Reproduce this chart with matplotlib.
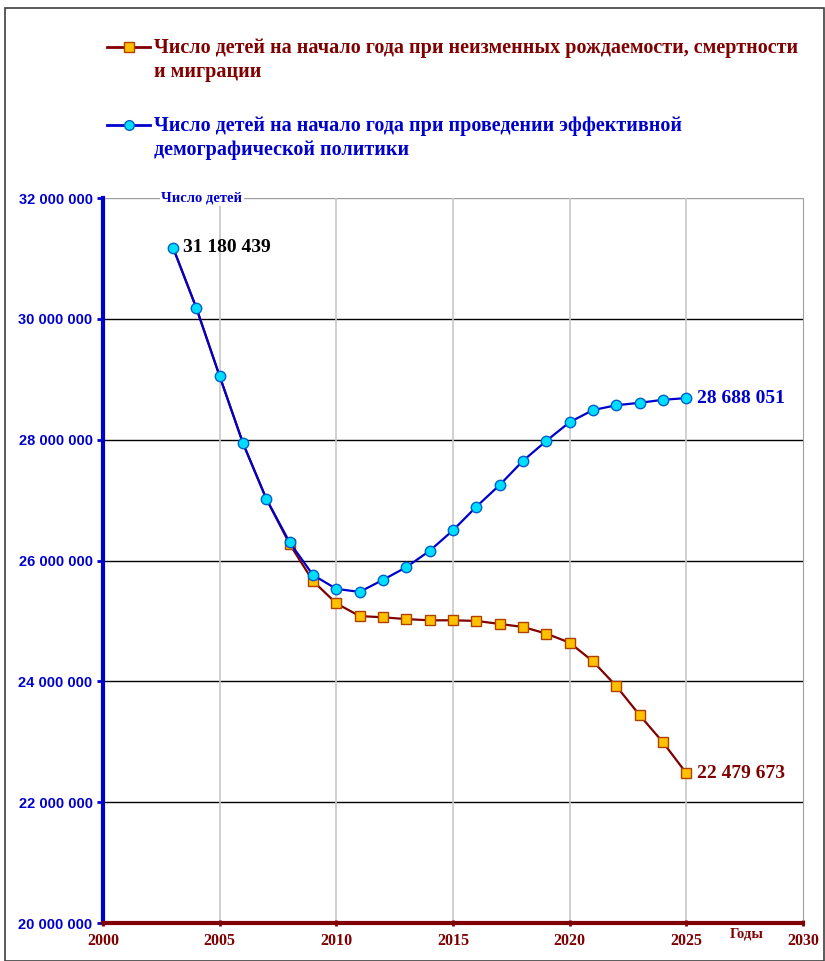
import matplotlib
matplotlib.use("Agg")
import matplotlib.pyplot as plt
from matplotlib.lines import Line2D
from matplotlib.patches import Rectangle
from matplotlib.ticker import FuncFormatter

# ---- data ----
years = list(range(2003, 2026))
kids_policy = [31180439, 30180000, 29050000, 27940000, 27020000, 26300000,
               25760000, 25530000, 25480000, 25680000, 25890000, 26160000,
               26500000, 26890000, 27250000, 27650000, 27980000, 28290000,
               28490000, 28570000, 28610000, 28660000, 28688051]
kids_constant = [31180439, 30180000, 29050000, 27940000, 27020000, 26270000,
                 25660000, 25290000, 25080000, 25060000, 25030000, 25010000,
                 25010000, 25000000, 24950000, 24900000, 24790000, 24640000,
                 24330000, 23920000, 23440000, 22990000, 22479673]
label_constant = "Число детей на начало года при неизменных рождаемости, смертности\nи миграции"
label_policy = "Число детей на начало года при проведении эффективной\nдемографической политики"

DARKRED = "#800000"
BLUE = "#0000CC"
SERIF = "Liberation Serif"
SANS = "Liberation Sans"


def fmt_num(v, pos=None):
    return f"{int(round(v)):,}".replace(",", " ")


fig = plt.figure(figsize=(8.25, 9.61), dpi=100)
ax = fig.add_axes([103 / 825, 1 - 923 / 961, 700 / 825, 725 / 961])

# red series first so the blue one covers the shared start
ax.plot(years, kids_constant, color=DARKRED, lw=1.6, marker="s", ms=7,
        mfc="#FFC000", mec="#B04000", mew=1.0, markevery=list(range(5, len(years))),
        zorder=3)
ax.plot(years, kids_policy, color=BLUE, lw=1.6, marker="o", ms=7.5,
        mfc="#00DDFF", mec="#0060CC", mew=1.0, zorder=4)

ax.set_xlim(2000, 2030)
ax.set_ylim(20_000_000, 32_000_000)
ax.set_xticks(range(2000, 2031, 5))
ax.set_yticks(range(20_000_000, 32_000_001, 2_000_000))
ax.yaxis.set_major_formatter(FuncFormatter(fmt_num))

# grid: black horizontals, grey verticals
for yv in range(22_000_000, 32_000_000, 2_000_000):
    ax.axhline(yv, color="black", lw=1.0, zorder=1)
ax.axhline(32_000_000, color="#A0A0A0", lw=1.0, zorder=1)
for xv in range(2005, 2030, 5):
    ax.axvline(xv, color="#C8C8C8", lw=1.2, zorder=1)

ax.spines["top"].set_visible(False)
ax.spines["right"].set_color("#A0A0A0")
ax.spines["left"].set_color(BLUE)
ax.spines["left"].set_linewidth(3)
ax.spines["bottom"].set_color(DARKRED)
ax.spines["bottom"].set_linewidth(3)
ax.tick_params(axis="y", colors=BLUE, length=4, width=2, direction="out")
ax.tick_params(axis="x", colors=DARKRED, length=4, width=2, direction="inout", pad=5)
for t in ax.get_yticklabels():
    t.set_fontfamily(SANS)
    t.set_fontweight("bold")
    t.set_fontsize(10.5)
for t in ax.get_xticklabels():
    t.set_fontfamily(SERIF)
    t.set_fontweight("bold")
    t.set_fontsize(11.5)
    t.set_color(DARKRED)

# axis captions
ax.text(2002.5, 32_000_000, "Число детей", color=BLUE, fontfamily=SERIF,
        fontweight="bold", fontsize=10.5, ha="left", va="center",
        bbox=dict(facecolor="white", edgecolor="none", pad=1), zorder=5)
ax.text(2027.6, 19_920_000, "Годы", color=DARKRED, fontfamily=SERIF,
        fontweight="bold", fontsize=10.5, ha="center", va="top", clip_on=False)

# value labels
ax.text(2003.45, kids_policy[0], fmt_num(kids_policy[0]), color="black",
        fontfamily=SERIF, fontweight="bold", fontsize=14, va="center")
ax.text(2025.45, kids_policy[-1], fmt_num(kids_policy[-1]), color=BLUE,
        fontfamily=SERIF, fontweight="bold", fontsize=14, va="center")
ax.text(2025.45, kids_constant[-1], fmt_num(kids_constant[-1]), color=DARKRED,
        fontfamily=SERIF, fontweight="bold", fontsize=14, va="center")

# legend drawn at the top of the figure
def legend_entry(y_px, color, marker, mfc, mec, label):
    yf = 1 - y_px / 961
    fig.add_artist(Line2D([107 / 825, 150 / 825], [yf, yf], color=color, lw=2,
                          transform=fig.transFigure))
    fig.add_artist(Line2D([128.5 / 825], [yf], marker=marker, ms=7, mfc=mfc,
                          mec=mec, transform=fig.transFigure, lw=0))
    fig.text(154 / 825, yf + 9 / 961, label, color=color, fontfamily=SERIF,
             fontweight="bold", fontsize=14.5, ha="left", va="top",
             linespacing=1.25)

legend_entry(47, DARKRED, "s", "#FFC000", "#B04000", label_constant)
legend_entry(125, BLUE, "o", "#00DDFF", "#0060CC", label_policy)

# outer frame
fig.add_artist(Rectangle((5 / 825, 0), 819 / 825, 1 - 8 / 961, fill=False,
                         edgecolor="#404040", lw=1.2, transform=fig.transFigure))

fig.savefig("out.png", dpi=100)
